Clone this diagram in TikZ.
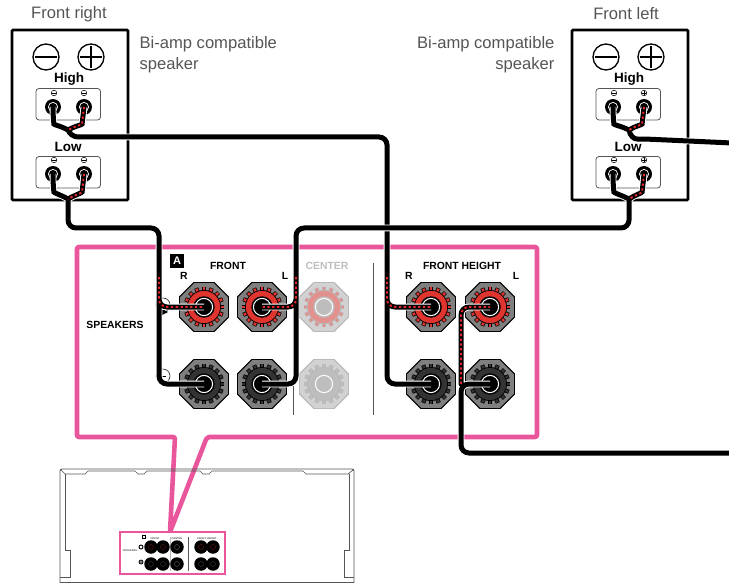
\documentclass[tikz,border=0pt]{standalone}
\usepackage{fontspec}
\setmainfont{Liberation Sans}
\usetikzlibrary{shapes.geometric, positioning, calc}
\definecolor{panelpink}{HTML}{E9569C}
\definecolor{labelgrey}{HTML}{555555}
\definecolor{postgrey}{HTML}{7F7F7F}
\definecolor{postred}{HTML}{E0352F}
\definecolor{postdark}{HTML}{333333}
\definecolor{fadegrey}{HTML}{D2D2D2}
\definecolor{fadeedge}{HTML}{B8B8B8}
\definecolor{fadered}{HTML}{E2918E}
\definecolor{fadegear}{HTML}{BDBDBD}
\definecolor{dotred}{HTML}{E8262A}

\tikzset{
  cable/.style={black, line width=5pt, line cap=round, rounded corners=8pt,
    preaction={draw=white, line width=6.8pt}},
  dotline/.style={dotred, line width=1.9pt, rounded corners=8pt, dash pattern=on 2.3pt off 2.5pt},
  captiontext/.style={labelgrey, font=\fontsize{16.6}{21}\selectfont},
  paneltext/.style={black, font=\fontsize{10.4}{11}\selectfont\bfseries},
  spktext/.style={black, font=\fontsize{13.5}{14}\selectfont\bfseries},
  spkpost/.style={circle, fill=black, inner sep=0pt, minimum size=16pt},
  tinypost/.style={circle, fill=black, inner sep=0pt, minimum size=13.5pt},
  posthub/.style={circle, fill=black, inner sep=0pt, minimum size=21.5pt},
  tinytext/.style={labelgrey, font=\fontsize{2.6}{3}\selectfont\bfseries}
}

\begin{document}
\begin{tikzpicture}[x=1pt, y=-1pt]
  \useasboundingbox (0,0) rectangle (729,583);

  % Captions
  \node[captiontext] (capright) at (69,14) {Front right};
  \node[captiontext] (capleft) at (626,14) {Front left};
  \node[captiontext, anchor=west, align=left] (ampright) at (136,55) {Bi-amp compatible\\speaker};
  \node[captiontext, anchor=east, align=right] (ampleft) at (558,55) {Bi-amp compatible\\speaker};

  % The two speakers
  \foreach \spk/\sx/\signbar in {R/0/0, L/560/2.2} {
    \begin{scope}[shift={(\sx,0)}]
      \draw[black, line width=2.6pt, rounded corners=1pt] (12,30) rectangle (128,200);
      \draw[black, line width=1.3pt] (46,57) circle (13);
      \draw[black, line width=2.2pt] (35,57) -- (57,57);
      \draw[black, line width=1.3pt] (91,57) circle (13);
      \draw[black, line width=1.3pt] (80,57) -- (102,57) (91,46) -- (91,68);
      \node[spktext] (\spk hightext) at (69,79) {High};
      \node[spktext] (\spk lowtext) at (68,147) {Low};
      \draw[labelgrey, line width=.8pt, rounded corners=3pt] (36,88.5) rectangle (100.5,120);
      \draw[labelgrey, line width=.8pt, rounded corners=3pt] (36,156.5) rectangle (100.5,188);
      \foreach \lvl/\ly in {h/107, l/174} {
        \node[spkpost] (\spk\lvl m) at (53,\ly) {};
        \node[spkpost] (\spk\lvl p) at (84,\ly) {};
        \draw[white, line width=.7pt] (53,\ly) circle (4.6) (84,\ly) circle (4.6);
        \draw[black, line width=.5pt] (54,\ly-14) circle (2.8) (84,\ly-14) circle (2.8);
        \draw[black, line width=.5pt] (52,\ly-14) -- (56,\ly-14) (82,\ly-14) -- (86,\ly-14);
        \draw[black, line width=.5pt] (84,\ly-14-\signbar) -- (84,\ly-14+\signbar);
      }
    \end{scope}
  }

  % Speaker panel with its pointer
  \draw[panelpink, line width=4.6pt, line join=round, rounded corners=2pt]
    (170,532) -- (175,437) -- (77,437) -- (77,247) -- (537,247) -- (537,437) -- (207,437) -- (170,532);

  \draw[labelgrey, line width=.7pt] (293,263) -- (293,415);
  \draw[labelgrey, line width=.7pt] (373,263) -- (373,415);

  % Polarity marks, mostly behind the cables
  \draw[black, line width=.5pt] (163,305) circle (7) (163,376) circle (7);
  \draw[black, line width=.8pt] (160,376) -- (166,376);
  \fill[black] (162,309) -- (168,312) -- (162,315) -- cycle;

  % Binding posts
  \foreach \postname/\postx/\posty/\octcol/\edgecol/\gearcol/\hubcol in {
    frontRhi/204/307/postgrey/black/postred/black,
    frontLhi/262/307/postgrey/black/postred/black,
    centerhi/324/307/fadegrey/fadeedge/fadered/fadegear,
    heightRhi/431/307/postgrey/black/postred/black,
    heightLhi/490/307/postgrey/black/postred/black,
    frontRlo/204/384/postgrey/black/postdark/black,
    frontLlo/262/384/postgrey/black/postdark/black,
    centerlo/324/384/fadegrey/fadeedge/fadegear/fadegear,
    heightRlo/431/384/postgrey/black/postdark/black,
    heightLlo/490/384/postgrey/black/postdark/black} {
    \node[regular polygon, regular polygon sides=8, minimum size=53pt, inner sep=0pt,
      fill=\octcol, draw=\edgecol, line width=.9pt] (\postname oct) at (\postx,\posty) {};
    \foreach \ang in {0,22.5,...,340} {
      \draw[\edgecol, line width=4.2pt] (\postx,\posty) ++(\ang:12) -- ++(\ang:8.4);
      \draw[\gearcol, line width=2.6pt] (\postx,\posty) ++(\ang:12) -- ++(\ang:7.8);
    }
    \draw[fill=\gearcol, draw=\edgecol, line width=.7pt] (\postx,\posty) circle (16.6);
    \node[posthub, fill=\hubcol] (\postname) at (\postx,\posty) {};
    \draw[white, line width=1pt] (\postx,\posty) circle (8.6);
  }

  % Cable ends and branch points
  \coordinate (Rhjoin) at (68,130);
  \coordinate (Rljoin) at (68,199);
  \coordinate (Lhjoin) at (629,130);
  \coordinate (Lljoin) at (629,199);
  \coordinate (frontRsplit) at (159,277);
  \coordinate (frontLsplit) at (296,277);
  \coordinate (heightRsplit) at (387,277);
  \coordinate (heightLsplit) at (461,384);
  \coordinate (hiexit) at (732,143);
  \coordinate (loexit) at (732,453);

  % Front right, High to the height R posts
  \draw[cable] (heightRsplit) |- (heightRhi.center)
    (Rhm.center) -- (53,116) .. controls (54,125) and (61,126) .. (Rhjoin)
    (Rhp.center) -- (83,116) .. controls (82,125) and (75,126) .. (Rhjoin)
    (Rhjoin) -- (70,137) -- (387,137) -- (387,384) -- (heightRlo.center);
  \draw[dotline] (heightRsplit) |- (heightRhi.center);
  \draw[dotline] (Rhp.center) -- (83,116) .. controls (82,125) and (75,126) .. (Rhjoin);

  % Front right, Low to the front R posts
  \draw[cable] (frontRsplit) |- (frontRhi.center)
    (Rlm.center) -- (53,184) .. controls (54,193) and (61,195) .. (Rljoin)
    (Rlp.center) -- (83,184) .. controls (82,193) and (75,195) .. (Rljoin)
    (Rljoin) -- (68,228) -- (159,228) -- (159,384) -- (frontRlo.center);
  \draw[dotline] (frontRsplit) |- (frontRhi.center);
  \draw[dotline] (Rlp.center) -- (83,184) .. controls (82,193) and (75,195) .. (Rljoin);

  % Front left, Low to the front L posts
  \draw[cable] (frontLsplit) |- (frontLhi.center)
    (Llm.center) -- (613,184) .. controls (614,193) and (621,195) .. (Lljoin)
    (Llp.center) -- (643,184) .. controls (642,193) and (635,195) .. (Lljoin)
    (Lljoin) -- (629,228) -- (296,228) -- (296,384) -- (frontLlo.center);
  \draw[dotline] (frontLsplit) |- (frontLhi.center);
  \draw[dotline] (Llp.center) -- (643,184) .. controls (642,193) and (635,195) .. (Lljoin);

  % Front left, High, runs off the page and comes back to the height L posts
  \draw[cable] (Lhm.center) -- (613,116) .. controls (614,125) and (621,126) .. (Lhjoin)
    (Lhp.center) -- (643,116) .. controls (642,125) and (635,126) .. (Lhjoin)
    (Lhjoin) .. controls (630,136) and (634,139) .. (645,139) -- (hiexit);
  \draw[dotline] (Lhp.center) -- (643,116) .. controls (642,125) and (635,126) .. (Lhjoin);

  \draw[cable] (heightLsplit) |- (heightLhi.center)
    (heightLlo.center) -- (461,384) -- (461,453) -- (loexit);
  \draw[dotline] (heightLsplit) |- (heightLhi.center);

  % Panel labels
  \node[paneltext] (speakerstext) at (115,325) {SPEAKERS};
  \node[fill=black, text=white, inner sep=0pt, minimum size=14.5pt, font=\fontsize{11}{11}\selectfont\bfseries] (Abadge) at (177,261) {A};
  \node[paneltext] (frontRtext) at (184,276) {R};
  \node[paneltext] (frontLtext) at (285,276) {L};
  \node[paneltext] (fronttext) at (228,266) {FRONT};
  \node[paneltext, text=fadegear] (centertext) at (327,266) {CENTER};
  \node[paneltext] (heighttext) at (462,266) {FRONT HEIGHT};
  \node[paneltext] (heightRtext) at (409,276) {R};
  \node[paneltext] (heightLtext) at (516,276) {L};

  % Back of the unit
  \draw[labelgrey, line width=.9pt, rounded corners=2pt]
    (60,590) -- (60,469) -- (354,469) -- (354,590);
  \draw[labelgrey, line width=.8pt] (60,582) -- (354,582);
  \draw[labelgrey, line width=.7pt]
    (61,470) -- (65,474) -- (85,474) -- (88,471) -- (135,471) -- (138,474) -- (144,474) -- (147,471)
    -- (200,471) -- (203,474) -- (209,474) -- (212,471) -- (303,471) -- (306,474) -- (348,474) -- (353,470);
  \draw[labelgrey, line width=.7pt] (65,474) -- (65,550) -- (70,550) -- (70,577) -- (60,577);
  \draw[labelgrey, line width=.7pt] (349,474) -- (349,550) -- (344,550) -- (344,577) -- (354,577);

  % Small view of the panel
  \draw[panelpink, fill=white, line width=2.4pt] (120,532) rectangle (225,574);
  \node[tinytext] (tinyspeakers) at (130,551) {SPEAKERS};
  \node[tinytext] (tinyfront) at (155,539) {FRONT};
  \node[tinytext] (tinycenter) at (177,539) {CENTER};
  \node[tinytext] (tinyheight) at (207,539) {FRONT HEIGHT};
  \node[draw=black, fill=white, line width=1pt, inner sep=0pt, minimum size=3pt] (tinyA) at (144,537) {};
  \draw[fadeedge, line width=1pt] (170,537) -- (170,571);
  \draw[labelgrey, line width=.7pt] (188,537) -- (188,571);
  \draw[black, line width=.9pt] (141,547) circle (2);
  \fill[postgrey, draw=black, line width=.7pt] (141,562) circle (2);
  \foreach \tinyname/\tinyx/\tinyy/\tinycol in {
    tpa/151/547/postred, tpb/163/547/postred, tpc/177/547/fadegear, tpd/201/547/postred, tpe/213/547/postred,
    tpf/151/564/postgrey, tpg/163/564/postgrey, tph/177/564/fadegear, tpi/201/564/postgrey, tpj/213/564/postgrey} {
    \node[tinypost] (\tinyname) at (\tinyx,\tinyy) {};
    \draw[\tinycol!55!black, line width=.3pt] (\tinyx,\tinyy) circle (2.5);
  }
\end{tikzpicture}
\end{document}
